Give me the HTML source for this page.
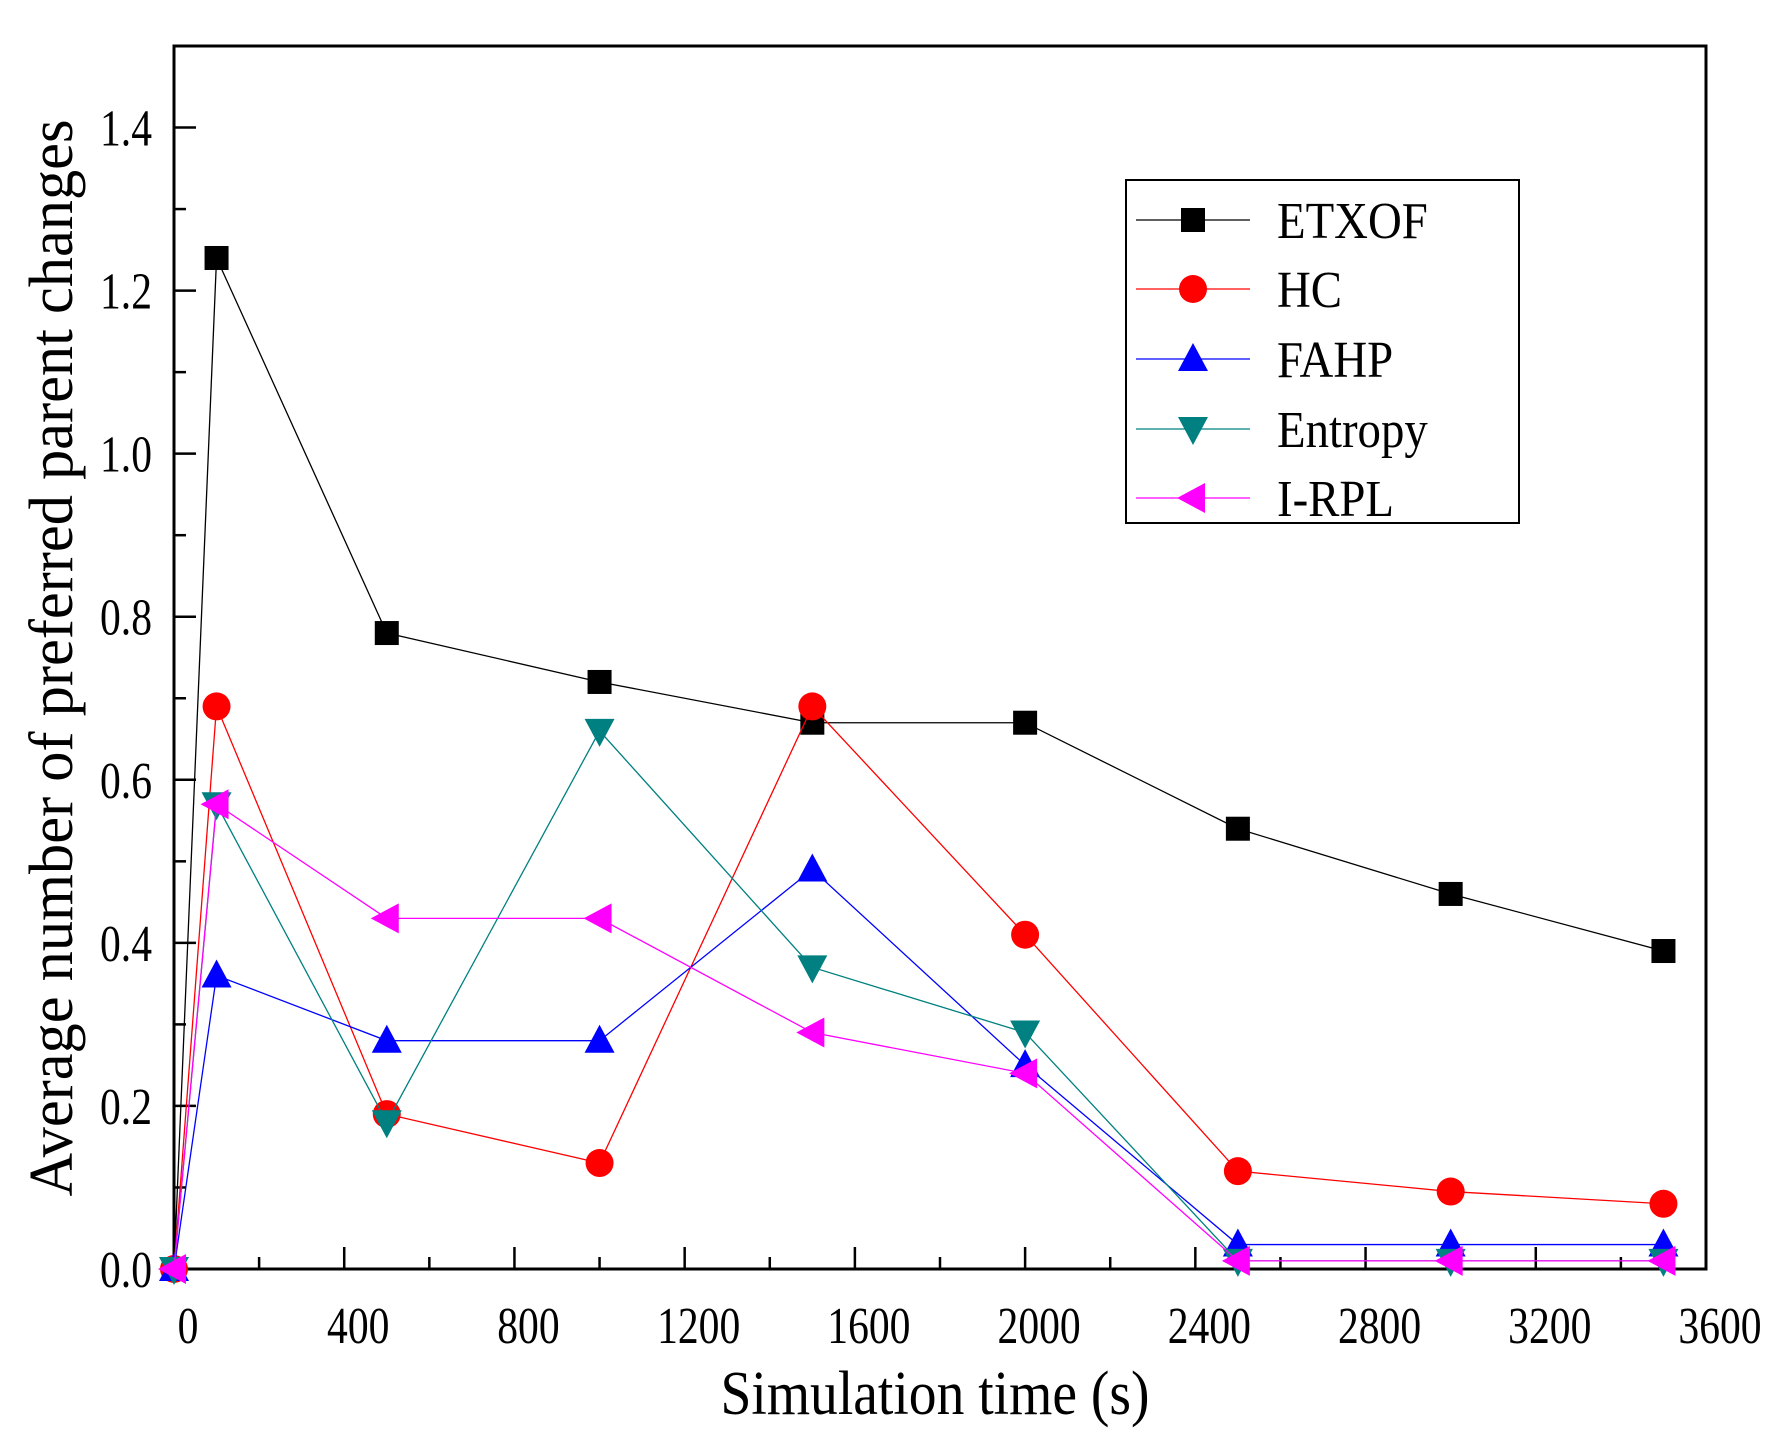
<!DOCTYPE html>
<html><head><meta charset="utf-8"><style>
html,body{margin:0;padding:0;background:#fff}
svg text{font-family:"Liberation Serif",serif;fill:#000}
</style></head><body>
<svg id="chart" width="1787" height="1443" xmlns="http://www.w3.org/2000/svg">
<g id="axes"></g><g id="series"></g><g id="legend"></g>
</svg>
<script>
const xValues=[0,100,500,1000,1500,2000,2500,3000,3500];
const etxof=[0,1.24,0.78,0.72,0.67,0.67,0.54,0.46,0.39];
const hc=[0,0.69,0.19,0.13,0.69,0.41,0.12,0.095,0.08];
const fahp=[0,0.36,0.28,0.28,0.49,0.25,0.03,0.03,0.03];
const entropy=[0,0.57,0.18,0.66,0.37,0.29,0.01,0.01,0.01];
const irpl=[0,0.57,0.43,0.43,0.29,0.24,0.01,0.01,0.01];
const xTicks=[0,400,800,1200,1600,2000,2400,2800,3200,3600];
const yTicks=[0.0,0.2,0.4,0.6,0.8,1.0,1.2,1.4];
const seriesNames=["ETXOF","HC","FAHP","Entropy","I-RPL"];

const L=174,R=1706,T=46,B=1269,XMAX=3600,YMAX=1.5;
const sx=v=>L+(v/XMAX)*(R-L);
const sy=v=>B-(v/YMAX)*(B-T);
const NS="http://www.w3.org/2000/svg";
function mk(tag,attrs,parent){const e=document.createElementNS(NS,tag);for(const k in attrs)e.setAttribute(k,attrs[k]);parent.appendChild(e);return e;}
const axes=document.getElementById('axes'),ser=document.getElementById('series'),leg=document.getElementById('legend');

const frame=mk('rect',{x:L,y:T,width:R-L,height:B-T,fill:'none',stroke:'#000','stroke-width':3},axes);



for(let v=0;v<=XMAX;v+=200){const major=v%400===0;const t=mk('line',{x1:sx(v),x2:sx(v),y1:B,y2:B-(major?22:12),stroke:'#000','stroke-width':2.5},axes);

}
for(let i=0;i<=15;i++){const v=i*0.1;const major=i%2===0;const t=mk('line',{x1:L,x2:L+(major?22:12),y1:sy(v),y2:sy(v),stroke:'#000','stroke-width':2.5},axes);

}
xTicks.forEach(v=>{const t=mk('text',{x:0,y:0,'font-size':52,'text-anchor':'middle',transform:`translate(${sx(v)+14},${B+74}) scale(0.8,1)`},axes);t.textContent=String(v);

});
yTicks.forEach(v=>{const t=mk('text',{x:0,y:0,'font-size':52,'text-anchor':'end',transform:`translate(${L-22},${sy(v)+18}) scale(0.8,1)`},axes);t.textContent=v.toFixed(1);

});
const xt=mk('text',{x:935,y:1414,'font-size':62,'text-anchor':'middle',textLength:429,lengthAdjust:'spacingAndGlyphs'},axes);xt.textContent='Simulation time (s)';


const yt=mk('text',{x:0,y:0,'font-size':62,'text-anchor':'middle',textLength:1077,lengthAdjust:'spacingAndGlyphs',transform:'translate(72,658) rotate(-90)'},axes);yt.textContent='Average number of preferred parent changes';



function marker(type,color,cx,cy,parent){
 let e;
 if(type==='square')e=mk('rect',{x:cx-12,y:cy-12,width:24,height:24,fill:color},parent);
 else if(type==='circle')e=mk('circle',{cx:cx,cy:cy,r:14,fill:color},parent);
 else if(type==='up')e=mk('polygon',{points:`${cx},${cy-16} ${cx+15},${cy+12} ${cx-15},${cy+12}`,fill:color},parent);
 else if(type==='down')e=mk('polygon',{points:`${cx},${cy+16} ${cx+15},${cy-12} ${cx-15},${cy-12}`,fill:color},parent);
 else e=mk('polygon',{points:`${cx-16},${cy} ${cx+12},${cy-15} ${cx+12},${cy+15}`,fill:color},parent);
 return e;
}
const defs=[[etxof,'#000','square'],[hc,'#ff0000','circle'],[fahp,'#0000ff','up'],[entropy,'#008080','down'],[irpl,'#ff00ff','left']];
defs.forEach((d,i)=>{
 const g=mk('g',{},ser);
 
 
 const pts=d[0].map((v,j)=>sx(xValues[j])+','+sy(v)).join(' ');
 const pl=mk('polyline',{points:pts,fill:'none',stroke:d[1],'stroke-width':1.3},g);
 
 
 d[0].forEach((v,j)=>{const m=marker(d[2],d[1],sx(xValues[j]),sy(v),g);
 
 });
});
const lb=mk('rect',{x:1126,y:180,width:393,height:343,fill:'#fff',stroke:'#000','stroke-width':2},leg);


const ly=[220,289,359,429,498];
defs.forEach((d,i)=>{
 const g=mk('g',{},leg);
 
 
 mk('line',{x1:1136,x2:1250,y1:ly[i],y2:ly[i],stroke:d[1],'stroke-width':1.3},g);
 marker(d[2],d[1],1193,ly[i],g);
 const t=mk('text',{x:0,y:0,'font-size':52,transform:`translate(1277,${ly[i]+18}) scale(0.9,1)`},g);t.textContent=seriesNames[i];
});
</script>
</body></html>
